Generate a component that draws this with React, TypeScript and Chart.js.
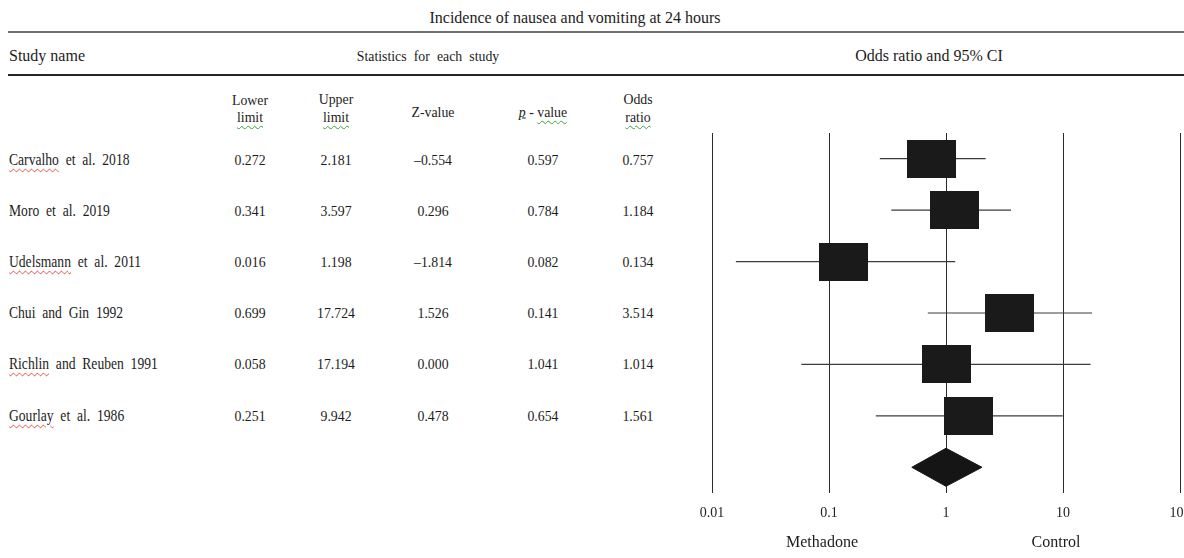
import React, { useEffect, useRef } from 'react';
import { Chart, registerables } from 'chart.js';

Chart.register(...registerables);

// ---------- data ----------
const studyNames = [
  'Carvalho et al. 2018',
  'Moro et al. 2019',
  'Udelsmann et al. 2011',
  'Chui and Gin 1992',
  'Richlin and Reuben 1991',
  'Gourlay et al. 1986',
];
const lowerLimits = [0.272, 0.341, 0.016, 0.699, 0.058, 0.251];
const upperLimits = [2.181, 3.597, 1.198, 17.724, 17.194, 9.942];
const zValues = ['–0.554', '0.296', '–1.814', '1.526', '0.000', '0.478'];
const pValues = ['0.597', '0.784', '0.082', '0.141', '1.041', '0.654'];
const oddsRatios = [0.757, 1.184, 0.134, 3.514, 1.014, 1.561];
const summaryOR = 1.0;
const summaryLower = 0.51;
const summaryUpper = 2.03;
const xTicks = [0.01, 0.1, 1, 10, 100];
const xTickLabels = ['0.01', '0.1', '1', '10', '100'];

// spell-check squiggle under first word of these names (visual only)
const flaggedNames = [true, false, true, false, true, true];

// ---------- style constants ----------
const FONT = '"Liberation Serif", "Times New Roman", serif';
const DIAMOND_HALF = 0.37;
const ROW_X = { lower: 250, upper: 336, z: 433, p: 543, or: 638 };
const ROW_Y0 = 159.5;
const ROW_STEP = 51.2;

const redSquiggle: React.CSSProperties = {
  textDecorationLine: 'underline',
  textDecorationStyle: 'wavy',
  textDecorationColor: '#e04040',
  textDecorationThickness: '1px',
  textUnderlineOffset: '3px',
};
const greenSquiggle: React.CSSProperties = {
  ...redSquiggle,
  textDecorationColor: '#3aa03a',
};

type TProps = {
  x: number;
  y: number;
  align?: 'center' | 'left';
  size?: number;
  sx?: number;
  style?: React.CSSProperties;
  children: React.ReactNode;
};

function T({ x, y, align = 'center', size = 15, sx = 1, style, children }: TProps) {
  return (
    <div
      style={{
        position: 'absolute',
        left: x,
        top: y,
        transformOrigin: align === 'center' ? 'center center' : 'left center',
        transform:
          (align === 'center' ? 'translate(-50%, -50%)' : 'translate(0, -50%)') + ` scaleX(${sx})`,
        fontSize: size,
        lineHeight: 1,
        whiteSpace: 'nowrap',
        ...style,
      }}
    >
      {children}
    </div>
  );
}

function ForestChart() {
  const ref = useRef<HTMLCanvasElement | null>(null);

  useEffect(() => {
    if (!ref.current) return;

    const box = document.createElement('canvas');
    box.width = 49;
    box.height = 38;
    const bctx = box.getContext('2d')!;
    bctx.fillStyle = '#1a1a1a';
    bctx.fillRect(0, 0, 49, 38);

    const errorBars = studyNames.map((_, i) => ({
      type: 'scatter' as const,
      showLine: true,
      data: [
        { x: lowerLimits[i], y: i },
        { x: upperLimits[i], y: i },
      ],
      borderColor: '#3c3c3c',
      borderWidth: 1.2,
      pointRadius: 0,
      fill: false,
      order: 3,
    }));

    const sy = studyNames.length;
    const diamond = {
      type: 'scatter' as const,
      showLine: true,
      data: [
        { x: summaryLower, y: sy },
        { x: summaryOR, y: sy - DIAMOND_HALF },
        { x: summaryUpper, y: sy },
        { x: summaryOR, y: sy + DIAMOND_HALF },
        { x: summaryLower, y: sy },
      ],
      borderColor: '#151515',
      backgroundColor: '#151515',
      borderWidth: 1,
      pointRadius: 0,
      fill: 'shape',
      order: 1,
    };

    const boxes = {
      type: 'scatter' as const,
      data: oddsRatios.map((v, i) => ({ x: v, y: i })),
      pointStyle: box,
      pointRadius: 5,
      order: 2,
    };

    const chart = new Chart(ref.current, {
      type: 'scatter',
      data: { datasets: [...errorBars, boxes, diamond] as any },
      options: {
        animation: false,
        responsive: false,
        events: [],
        layout: { padding: { left: 52, right: 40, top: 13, bottom: 25 } },
        plugins: {
          legend: { display: false },
          tooltip: { enabled: false },
        },
        scales: {
          x: {
            type: 'logarithmic',
            min: 0.01,
            max: 100,
            afterBuildTicks: (scale: any) => {
              scale.ticks = xTicks.map((v) => ({ value: v }));
            },
            afterFit: (scale: any) => {
              scale.height = 40;
            },
            grid: { color: '#2a2a2a', lineWidth: 1, drawTicks: false },
            border: { display: false },
            ticks: {
              autoSkip: false,
              maxRotation: 0,
              padding: 12,
              color: '#222',
              font: { family: FONT, size: 14 },
              callback: (_v: any, i: number) => xTickLabels[i],
            },
          },
          y: {
            type: 'linear',
            display: false,
            min: -0.5,
            max: 6.5,
            reverse: true,
          },
        },
      } as any,
    });
    return () => chart.destroy();
  }, []);

  return (
    <canvas
      ref={ref}
      width={560}
      height={438}
      style={{ position: 'absolute', left: 660, top: 120, width: 560, height: 438 }}
    />
  );
}

export default function App() {
  useEffect(() => {
    document.body.style.margin = '0';
  }, []);

  const hs = 15;
  const hsx = 0.92;

  return (
    <div
      style={{
        position: 'fixed',
        left: 0,
        top: 0,
        width: 1184,
        height: 558,
        overflow: 'hidden',
        background: '#ffffff',
        fontFamily: FONT,
        color: '#1c1c1c',
      }}
    >
      <ForestChart />

      <T x={575} y={18} size={16}>Incidence of nausea and vomiting at 24 hours</T>
      <div style={{ position: 'absolute', left: 8, top: 31, width: 1176, height: 2, background: '#707070' }} />
      <T x={9} y={56} align="left" size={16}>Study name</T>
      <T x={428} y={56} size={15} sx={0.92} style={{ wordSpacing: 4 }}>Statistics for each study</T>
      <T x={929} y={56} size={16}>Odds ratio and 95% CI</T>
      <div style={{ position: 'absolute', left: 8, top: 74, width: 1176, height: 2, background: '#262626' }} />

      <T x={ROW_X.lower} y={100} size={hs} sx={hsx}>Lower</T>
      <T x={ROW_X.lower} y={117} size={hs} sx={hsx} style={greenSquiggle}>limit</T>
      <T x={ROW_X.upper} y={99} size={hs} sx={hsx}>Upper</T>
      <T x={ROW_X.upper} y={117} size={hs} sx={hsx} style={greenSquiggle}>limit</T>
      <T x={ROW_X.z} y={112} size={hs} sx={hsx}>Z-value</T>
      <T x={ROW_X.p} y={112} size={hs} sx={hsx}>
        <span style={{ fontStyle: 'italic', textDecoration: 'underline' }}>p</span>
        {' - '}
        <span style={greenSquiggle}>value</span>
      </T>
      <T x={ROW_X.or} y={99} size={hs} sx={hsx}>Odds</T>
      <T x={ROW_X.or} y={117} size={hs} sx={hsx} style={greenSquiggle}>ratio</T>

      {studyNames.map((name, i) => {
        const y = ROW_Y0 + ROW_STEP * i;
        const idx = name.indexOf(' ');
        const first = name.slice(0, idx);
        const rest = name.slice(idx);
        return (
          <React.Fragment key={name}>
            <T x={9} y={y} align="left" size={16} sx={0.85} style={{ wordSpacing: 4 }}>
              <span style={flaggedNames[i] ? redSquiggle : undefined}>{first}</span>
              {rest}
            </T>
            <T x={ROW_X.lower} y={y} sx={0.92}>{lowerLimits[i].toFixed(3)}</T>
            <T x={ROW_X.upper} y={y} sx={0.92}>{upperLimits[i].toFixed(3)}</T>
            <T x={ROW_X.z} y={y} sx={0.92}>{zValues[i]}</T>
            <T x={ROW_X.p} y={y} sx={0.92}>{pValues[i]}</T>
            <T x={ROW_X.or} y={y} sx={0.92}>{oddsRatios[i].toFixed(3)}</T>
          </React.Fragment>
        );
      })}

      <T x={822} y={542} size={16}>Methadone</T>
      <T x={1056} y={542} size={16}>Control</T>
    </div>
  );
}
